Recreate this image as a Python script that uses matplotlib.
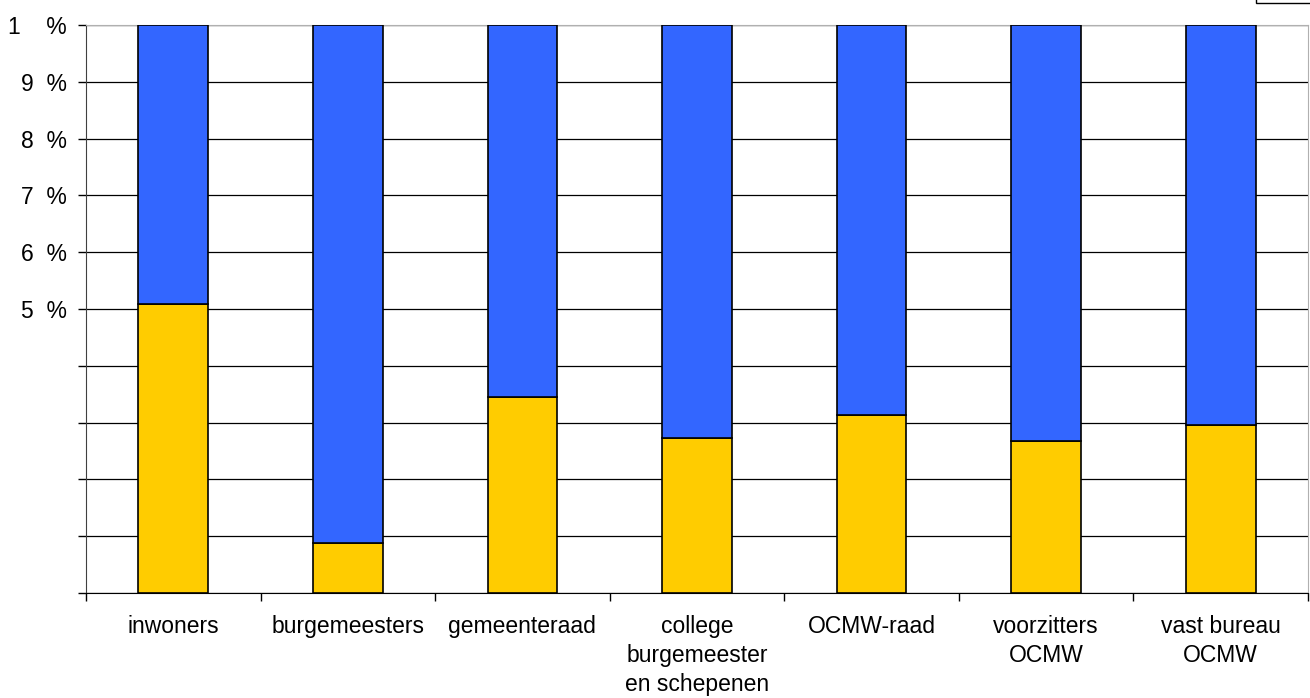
import matplotlib
matplotlib.use('Agg')
import numpy as np
import matplotlib.pyplot as plt
from matplotlib.patches import Rectangle

plt.rcParams['font.family'] = ['Liberation Sans', 'DejaVu Sans']

# data: share (in %) of the yellow part, the blue part fills up to 100
categories = ['inwoners', 'burgemeesters', 'gemeenteraad',
              'college\nburgemeester\nen schepenen', 'OCMW-raad',
              'voorzitters\nOCMW', 'vast bureau\nOCMW']
yellow_pct = [50.9, 8.8, 34.5, 27.3, 31.3, 26.8, 29.6]
blue_pct = [100 - v for v in yellow_pct]
ytick_vals = [0, 10, 20, 30, 40, 50, 60, 70, 80, 90, 100]
ytick_labels = ['', '', '', '', '', '5  %', '6  %', '7  %', '8  %', '9  %', '1    %']

YELLOW = '#FFCC00'
BLUE = '#3366FF'

fig = plt.figure(figsize=(13.10, 6.98), dpi=100)
ax = fig.add_axes([86 / 1310, 1 - 593 / 698, 1222 / 1310, 568 / 698])

x = np.arange(len(categories))
ax.bar(x, yellow_pct, width=0.4, color=YELLOW, edgecolor='black', linewidth=1.2, zorder=3)
ax.bar(x, blue_pct, width=0.4, bottom=yellow_pct, color=BLUE, edgecolor='black',
       linewidth=1.2, zorder=3)

ax.set_xlim(-0.5, len(categories) - 0.5)
ax.set_ylim(0, 100)

# gridlines
ax.set_yticks(ytick_vals)
ax.set_yticklabels(ytick_labels, fontsize=16.5)
ax.yaxis.grid(True, color='black', linewidth=0.9, zorder=0)
ax.tick_params(axis='y', direction='out', length=6, width=1, pad=7.5, colors='black')

# category labels centred, ticks at the boundaries
ax.set_xticks(x)
ax.set_xticklabels(categories, fontsize=16.5, linespacing=1.32)
ax.set_xticks(np.arange(-0.5, len(categories)), minor=True)
ax.tick_params(axis='x', which='major', length=0, pad=16)
ax.tick_params(axis='x', which='minor', direction='out', length=6, width=1)

ax.spines['left'].set_color('#404040')
ax.spines['bottom'].set_color('black')
ax.spines['top'].set_color('#b0b0b0')
ax.spines['right'].set_color('#b0b0b0')
ax.spines['top'].set_linewidth(0.8)
ax.spines['right'].set_linewidth(0.8)

# legend box cut off at the top right
fig.patches.append(Rectangle((1256 / 1310, 1 - 3 / 698), 0.1, 0.05,
                             transform=fig.transFigure, facecolor='white',
                             edgecolor='black', linewidth=1.0))

fig.savefig('out.png', dpi=100)
